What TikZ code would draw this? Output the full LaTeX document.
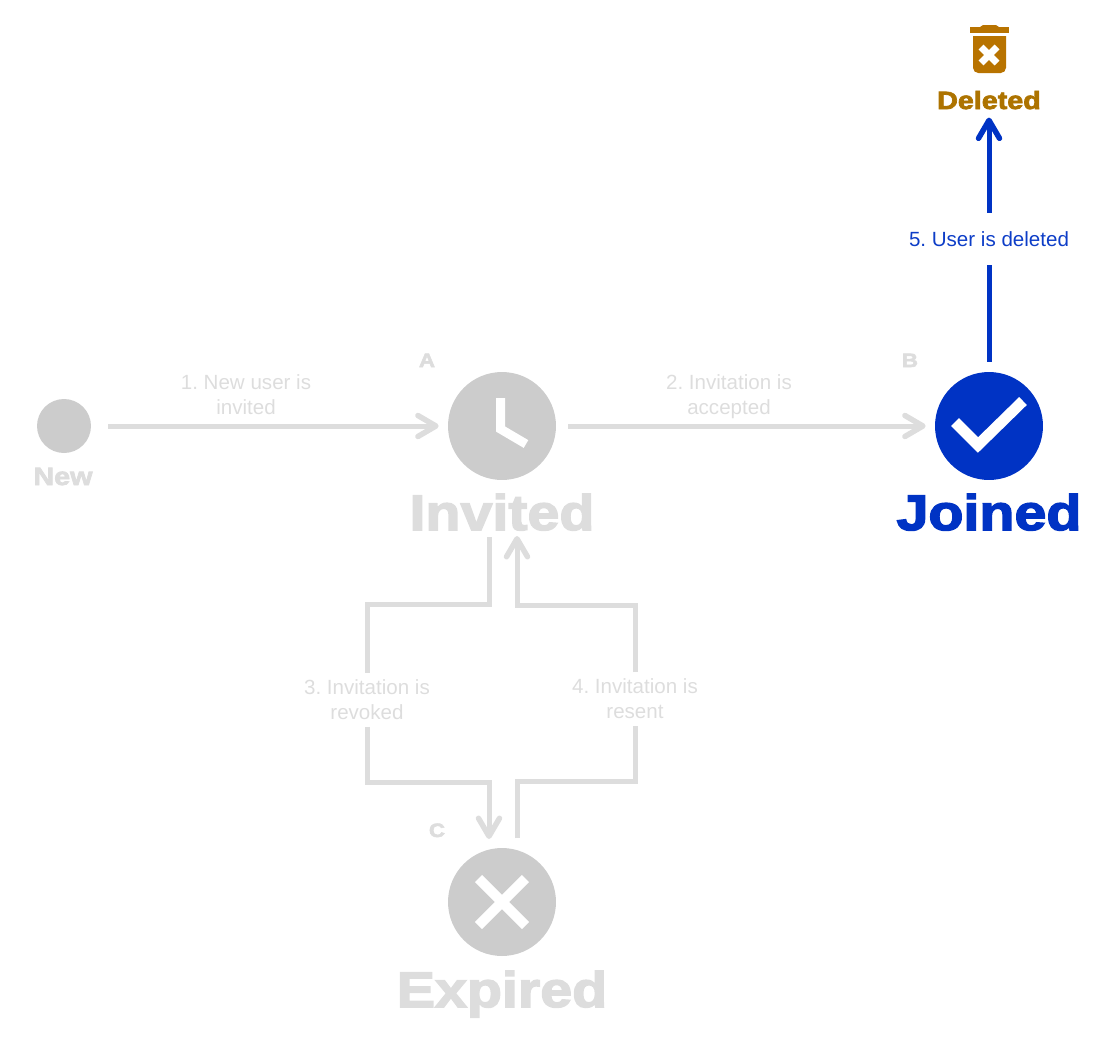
\documentclass[tikz,border=0pt]{standalone}
\usepackage{fontspec}
\usepackage{xcolor}
\usetikzlibrary{arrows.meta}
\setmainfont{Liberation Sans}
\newfontfamily\heavyfont[FakeBold=3,FakeStretch=1.15]{Liberation Sans Bold}
\definecolor{fadegray}{HTML}{DDDDDD}
\definecolor{circlegray}{HTML}{CCCCCC}
\definecolor{joinblue}{HTML}{0033C4}
\definecolor{trashbrown}{HTML}{B87300}
\definecolor{deletedbrown}{HTML}{AD7300}
\tikzset{
    state/.style={circle, inner sep=0pt, minimum size=2.16cm, fill=circlegray},
    bigtitle/.style={anchor=base, inner sep=0pt, text=fadegray, font=\heavyfont\fontsize{28.4}{30}\selectfont},
    smalltitle/.style={anchor=base, inner sep=0pt, text=fadegray, font=\heavyfont\fontsize{14.2}{16}\selectfont},
    cornerletter/.style={anchor=base, inner sep=0pt, text=fadegray, font=\heavyfont\fontsize{11}{13}\selectfont},
    steplabel/.style={align=center, inner sep=0pt, minimum height=1.06cm, text=fadegray, font=\frenchspacing\fontsize{11.7}{14.2}\selectfont},
    flow/.style={draw=fadegray, line width=1mm},
    flowtip/.style={-{Straight Barb[length=3.6mm, width=4.2mm, line width=1.1mm, round]}},
    glyph/.style={draw=white, line width=2.2mm}
}
\begin{document}
\begin{tikzpicture}[x=0.02cm, y=-0.02cm]
    \useasboundingbox (0,0) rectangle (1120,1059);

    \node[state, minimum size=1.08cm] (new) at (64,426) {};
    \node[state] (invited) at (502,426) {};
    \node[state, fill=joinblue] (joined) at (989,426) {};
    \node[state] (expired) at (502,902) {};

    \node[smalltitle] (newtitle) at (63,485) {New};
    \node[bigtitle] (invitedtitle) at (502,530) {Invited};
    \node[bigtitle, text=joinblue] (joinedtitle) at (989,530) {Joined};
    \node[bigtitle] (expiredtitle) at (502,1007) {Expired};
    \node[smalltitle, text=deletedbrown] (deletedtitle) at (989,109) {Deleted};

    \foreach \letter/\x/\y in {A/427/367, B/910/367, C/437/837}
        \node[cornerletter] (mark\letter) at (\x,\y) {\letter};

    \node[steplabel] (invite) at (246,395) {1. New user is\\invited};
    \node[steplabel] (accept) at (729,397) {2. Invitation is\\accepted};
    \node[steplabel] (revoke) at (367,700) {3. Invitation is\\revoked};
    \node[steplabel] (resend) at (635,699) {4. Invitation is\\resent};
    \node[steplabel, text=joinblue!95!white, minimum height=1.04cm] (remove) at (989,239) {5. User is deleted};

    \draw[flow, flowtip, shorten <=17*0.2mm, shorten >=9*0.2mm] (new) -- (invited);
    \draw[flow, flowtip, shorten <=12*0.2mm, shorten >=9*0.2mm] (invited) -- (joined);

    \coordinate (revokestart) at (489,537);
    \coordinate (revoketop) at (367,604);
    \coordinate (revokelow) at (367,782);
    \coordinate (revokeend) at (489,839);
    \draw[flow] (revokestart) |- (revoketop) -- (revoke.north);
    \draw[flow, flowtip] (revoke.south) -- (revokelow) -| (revokeend);

    \coordinate (resendstart) at (517,838);
    \coordinate (resendlow) at (635,781);
    \coordinate (resendtop) at (635,605);
    \coordinate (resendend) at (517,536);
    \draw[flow] (resendstart) |- (resendlow) -- (resend.south);
    \draw[flow, flowtip] (resend.north) -- (resendtop) -| (resendend);

    \draw[flow, draw=joinblue, shorten <=10*0.2mm] (joined) -- (remove);
    \draw[flow, draw=joinblue, flowtip, shorten >=8*0.2mm] (remove) -- (deletedtitle);

    \draw[glyph, line width=1.8mm] (500.5,398) -- (500.5,429) -- (526,444);
    \draw[glyph] (955,422) -- (978,445) -- (1023,401);
    \draw[glyph, line width=2mm] (478.5,878.5) -- (525.5,925.5);
    \draw[glyph, line width=2mm] (525.5,878.5) -- (478.5,925.5);

    \fill[trashbrown] (980,27) -- (983,25) -- (996,25) -- (999,27) -- cycle;
    \fill[trashbrown] (970,27) rectangle (1009,33);
    \fill[trashbrown] (973,36) -- (1006,36) [rounded corners=3pt] -- (1006,73) -- (973,73) [sharp corners] -- cycle;
    \draw[glyph, line width=1.4mm] (981,47) -- (997,63);
    \draw[glyph, line width=1.4mm] (997,47) -- (981,63);
\end{tikzpicture}
\end{document}
